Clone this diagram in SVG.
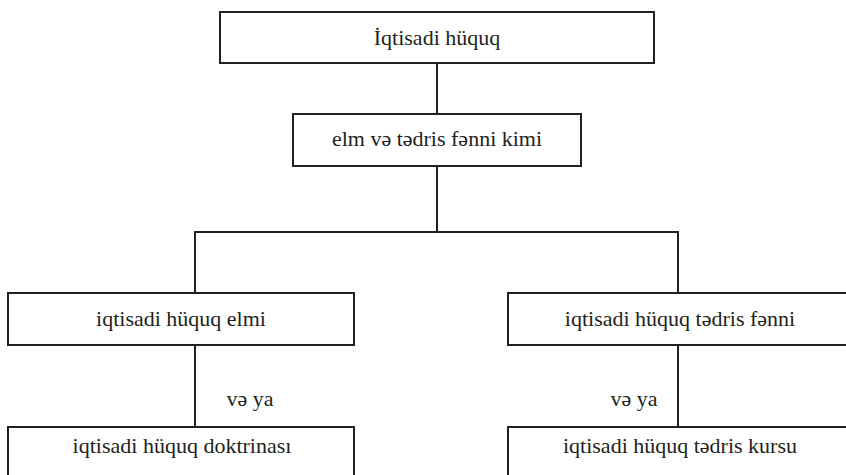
<svg xmlns="http://www.w3.org/2000/svg" width="846" height="475" viewBox="0 0 846 475">
<defs>
<style>
.box{fill:#fff;stroke:#231f20;stroke-width:2}
.ln{fill:none;stroke:#231f20;stroke-width:2}
</style>
</defs>
<rect width="846" height="475" fill="#fff"/>
<g id="connectors">
<line class="ln" x1="437" y1="63" x2="437" y2="114"/>
<line class="ln" x1="437" y1="166" x2="437" y2="232"/>
<polyline class="ln" points="195,293 195,232 678,232 678,293"/>
<line class="ln" x1="195" y1="345" x2="195" y2="427"/>
<line class="ln" x1="678" y1="345" x2="678" y2="427"/>
<text x="250" y="406" font-family="Liberation Serif" font-size="22" fill="#231f20" text-anchor="middle">və ya</text>
<text x="634" y="406" font-family="Liberation Serif" font-size="22" fill="#231f20" text-anchor="middle">və ya</text>
</g>
<g id="n1"><rect class="box" x="220" y="12" width="434" height="51"/><text x="437" y="45" font-family="Liberation Serif" font-size="22" fill="#231f20" text-anchor="middle">İqtisadi hüquq</text></g>
<g id="n2"><rect class="box" x="293" y="114" width="288" height="52"/><text x="437" y="146" font-family="Liberation Serif" font-size="22" fill="#231f20" text-anchor="middle">elm və tədris fənni kimi</text></g>
<g id="n3"><rect class="box" x="8" y="293" width="346" height="52"/><text x="181" y="326" font-family="Liberation Serif" font-size="22" fill="#231f20" text-anchor="middle">iqtisadi hüquq elmi</text></g>
<g id="n4"><rect class="box" x="508" y="293" width="345" height="52"/><text x="680" y="326" font-family="Liberation Serif" font-size="22" fill="#231f20" text-anchor="middle">iqtisadi hüquq tədris fənni</text></g>
<g id="n5"><rect class="box" x="8" y="427" width="346" height="60"/><text x="182" y="453" font-family="Liberation Serif" font-size="22" fill="#231f20" text-anchor="middle">iqtisadi hüquq doktrinası</text></g>
<g id="n6"><rect class="box" x="508" y="427" width="345" height="60"/><text x="680" y="453" font-family="Liberation Serif" font-size="22" fill="#231f20" text-anchor="middle">iqtisadi hüquq tədris kursu</text></g>
</svg>
